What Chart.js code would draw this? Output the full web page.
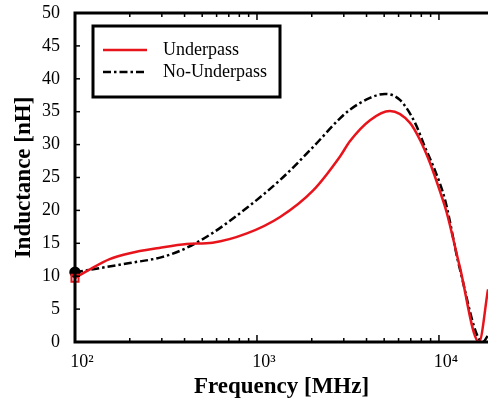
<!DOCTYPE html>
<html>
<head>
<meta charset="utf-8">
<script src="https://cdn.jsdelivr.net/npm/chart.js@4/dist/chart.umd.min.js"></script>
<style>
    html, body { margin: 0; padding: 0; background: #fff; }
    #wrap { width: 488px; height: 401px; }
</style>
</head>
<body>
<div id="wrap"><canvas id="inductanceChart"></canvas></div>
<script>
// frequency in MHz, inductance in nH
const underpassFreq = [100, 120, 155, 200, 290, 410, 570, 880, 1340, 2030, 2860, 3240, 4180, 5380, 6930, 7870, 8930, 10100, 11000, 13000, 16600, 18600];
const underpassL = [9.7, 11.0, 12.6, 13.5, 14.3, 14.9, 15.1, 16.5, 19.0, 23.0, 28.2, 30.5, 33.7, 35.1, 33.3, 30.7, 27.2, 23.0, 19.8, 11.5, 0.0, 8.0];

const noUnderpassFreq = [100, 200, 300, 410, 573, 881, 1337, 2030, 2860, 3240, 4180, 5050, 6100, 7390, 8380, 9500, 10800, 13000, 17400, 18600];
const noUnderpassL = [10.6, 12.0, 12.9, 14.3, 16.6, 20.4, 24.6, 29.6, 34.0, 35.3, 37.1, 37.7, 36.8, 33.3, 29.6, 26.1, 21.6, 11.2, 0.0, 1.0];

const seriesLabels = ['Underpass', 'No-Underpass'];
const xTickValues = [100, 1000, 10000];
const xTickLabels = ['10\u00B2', '10\u00B3', '10\u2074'];
const yTickValues = [0, 5, 10, 15, 20, 25, 30, 35, 40, 45, 50];

const serif = "'Liberation Serif', 'Times New Roman', serif";

function toPoints(xs, ys) {
    const pts = [];
    for (let i = 0; i < xs.length; i++) {
        pts.push({ x: xs[i], y: ys[i] });
    }
    return pts;
}

function firstOnly(n, value) {
    const arr = [];
    for (let i = 0; i < n; i++) {
        arr.push(i === 0 ? value : 0);
    }
    return arr;
}

// frame, inward ticks and the boxed legend
const framePlugin = {
    id: 'frame',
    afterDraw(chart) {
        const ctx = chart.ctx;
        const a = chart.chartArea;
        const xs = chart.scales.x;
        const ys = chart.scales.y;

        ctx.save();
        ctx.strokeStyle = '#000';

        // minor / major ticks on bottom and top
        ctx.lineWidth = 1.5;
        for (let dec = 100; dec <= 10000; dec *= 10) {
            for (let m = 1; m < 10; m++) {
                const v = dec * m;
                if (v > xs.max) break;
                const px = xs.getPixelForValue(v);
                const len = m === 1 ? 7 : 4;
                ctx.beginPath();
                ctx.moveTo(px, a.bottom);
                ctx.lineTo(px, a.bottom - len);
                ctx.moveTo(px, a.top);
                ctx.lineTo(px, a.top + len);
                ctx.stroke();
            }
        }
        yTickValues.forEach(function (v) {
            const py = ys.getPixelForValue(v);
            ctx.beginPath();
            ctx.moveTo(a.left, py);
            ctx.lineTo(a.left + 5, py);
            ctx.stroke();
        });

        // frame (right side is outside the picture)
        ctx.lineWidth = 3;
        ctx.beginPath();
        ctx.moveTo(a.right + 2, a.top);
        ctx.lineTo(a.left, a.top);
        ctx.lineTo(a.left, a.bottom);
        ctx.lineTo(a.right + 2, a.bottom);
        ctx.stroke();

        // legend box
        const bx = 93, by = 26, bw = 187, bh = 71;
        ctx.fillStyle = '#fff';
        ctx.fillRect(bx, by, bw, bh);
        ctx.lineWidth = 3;
        ctx.strokeRect(bx, by, bw, bh);

        ctx.font = '18px ' + serif;
        ctx.textBaseline = 'middle';
        ctx.textAlign = 'left';
        chart.data.datasets.forEach(function (ds, i) {
            const ly = 50 + i * 22;
            ctx.strokeStyle = ds.borderColor;
            ctx.lineWidth = ds.borderWidth;
            ctx.setLineDash(ds.borderDash || []);
            ctx.beginPath();
            ctx.moveTo(103, ly);
            ctx.lineTo(147, ly);
            ctx.stroke();
            ctx.setLineDash([]);
            ctx.fillStyle = '#000';
            ctx.fillText(ds.label, 163, ly);
        });
        ctx.restore();
    }
};

const chartControl = document.getElementById('inductanceChart');

const inductanceChart = new Chart(chartControl, {
    type: 'line',
    data: {
        datasets: [
            {
                label: seriesLabels[0],
                data: toPoints(underpassFreq, underpassL),
                borderColor: '#e8141c',
                borderWidth: 2.5,
                cubicInterpolationMode: 'monotone',
                pointStyle: 'rect',
                pointRadius: firstOnly(underpassFreq.length, 5),
                pointBorderColor: '#e8141c',
                pointBorderWidth: 2,
                pointBackgroundColor: 'rgba(0,0,0,0)',
                clip: { left: 10, top: 0, right: 0, bottom: 0 },
                order: 1
            },
            {
                label: seriesLabels[1],
                data: toPoints(noUnderpassFreq, noUnderpassL),
                borderColor: '#000',
                borderWidth: 2.5,
                borderDash: [8, 3, 2.5, 3],
                cubicInterpolationMode: 'monotone',
                pointStyle: 'circle',
                pointRadius: firstOnly(noUnderpassFreq.length, 4.5),
                pointBorderColor: '#000',
                pointBackgroundColor: '#000',
                clip: { left: 10, top: 0, right: 0, bottom: 0 },
                order: 2
            }
        ]
    },
    options: {
        animation: false,
        responsive: true,
        maintainAspectRatio: false,
        layout: {
            autoPadding: false,
            padding: { top: 13, right: 0, left: 0, bottom: 0 }
        },
        scales: {
            x: {
                type: 'logarithmic',
                min: 100,
                max: 18600,
                grid: { display: false },
                border: { display: false },
                afterBuildTicks: function (scale) {
                    scale.ticks = xTickValues.map(function (v) { return { value: v }; });
                },
                afterFit: function (scale) {
                    scale.height = 59;
                    scale.paddingLeft = 0;
                    scale.paddingRight = 0;
                },
                ticks: {
                    autoSkip: false,
                    maxRotation: 0,
                    labelOffset: 7,
                    padding: 1,
                    color: '#000',
                    font: { family: serif, size: 18 },
                    callback: function (value) {
                        const idx = xTickValues.indexOf(value);
                        return idx >= 0 ? xTickLabels[idx] : '';
                    }
                },
                title: {
                    display: true,
                    text: 'Frequency [MHz]',
                    color: '#000',
                    padding: { top: 0, bottom: 0 },
                    font: { family: serif, size: 23, weight: 'bold' }
                }
            },
            y: {
                min: 0,
                max: 50,
                grid: { display: false },
                border: { display: false },
                afterBuildTicks: function (scale) {
                    scale.ticks = yTickValues.map(function (v) { return { value: v }; });
                },
                afterFit: function (scale) {
                    scale.width = 75;
                    scale.paddingTop = 0;
                    scale.paddingBottom = 0;
                },
                ticks: {
                    padding: 7,
                    color: '#000',
                    font: { family: serif, size: 18 }
                },
                title: {
                    display: true,
                    text: 'Inductance [nH]',
                    color: '#000',
                    padding: { top: 10, bottom: 0 },
                    font: { family: serif, size: 23, weight: 'bold' }
                }
            }
        },
        plugins: {
            legend: { display: false },
            tooltip: { enabled: false }
        }
    },
    plugins: [framePlugin]
});
</script>
</body>
</html>
